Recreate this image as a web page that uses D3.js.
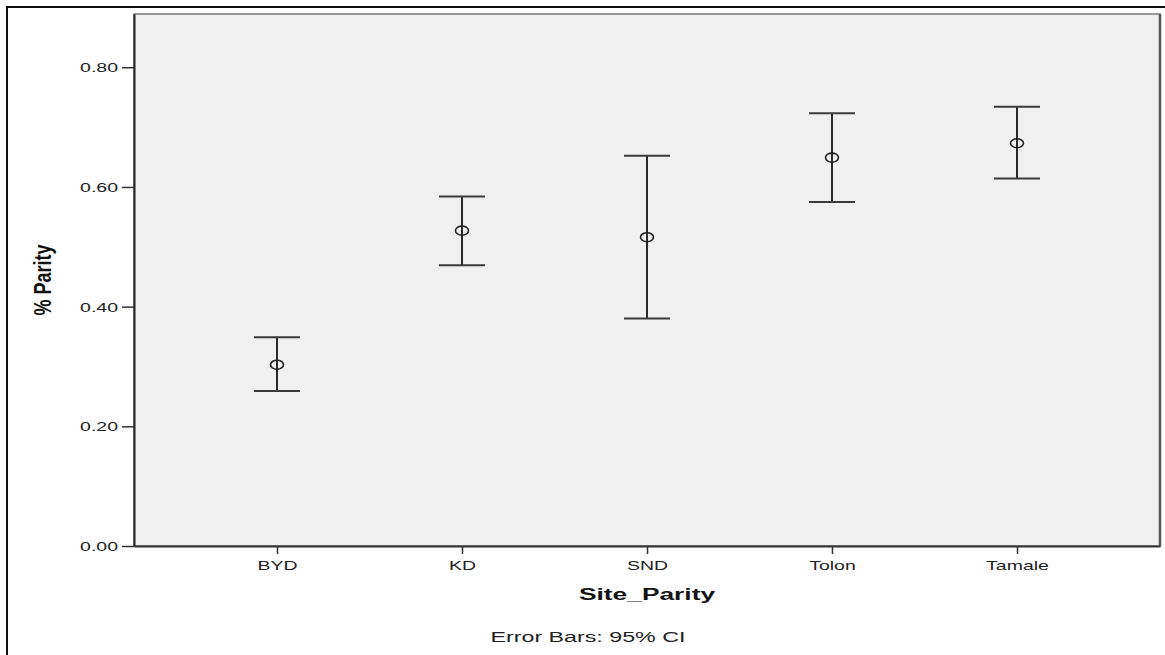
<!doctype html>
<html lang="en">
<head>
    <meta charset="utf-8">
    <title>Site_Parity error bars</title>
    <script src="https://d3js.org/d3.v7.min.js"></script>
    <style>
        body { margin: 0; background: #fff; }
        svg { display: block; }
    </style>
</head>
<body>
<script>
    // data
    const sites = ["BYD", "KD", "SND", "Tolon", "Tamale"]
    const means = [0.303, 0.527, 0.516, 0.649, 0.673]
    const lower = [0.259, 0.469, 0.380, 0.575, 0.614]
    const upper = [0.349, 0.584, 0.652, 0.723, 0.734]
    const yTicks = [0.00, 0.20, 0.40, 0.60, 0.80]

    const width = 1165, height = 655
    const plot = { left: 134, top: 14, right: 1160, bottom: 546 }
    const stretch = 1.5   // text in the source is horizontally stretched

    const svg = d3.select("body").append("svg")
        .attr("width", width)
        .attr("height", height)
        .attr("font-family", "'Liberation Sans', Arial, sans-serif")

    // outer frame (left + top only visible)
    svg.append("path")
        .attr("d", `M7,${height} V7 H${width}`)
        .attr("fill", "none")
        .attr("stroke", "#111")
        .attr("stroke-width", 2)

    let x = d3.scalePoint()
        .domain(sites)
        .range([plot.left, plot.right])
        .padding(0.773)

    let y = d3.scaleLinear()
        .domain([0, 0.889])
        .range([plot.bottom, plot.top])

    // plot background
    svg.append("rect")
        .attr("x", plot.left)
        .attr("y", plot.top)
        .attr("width", plot.right - plot.left)
        .attr("height", plot.bottom - plot.top)
        .attr("fill", "#f0f0f0")
        .attr("stroke", "#777")
        .attr("stroke-width", 1.5)

    svg.append("path")
        .attr("d", `M${plot.right},${plot.top} V${plot.bottom}`)
        .attr("stroke", "#555")
        .attr("stroke-width", 2.5)

    // y axis
    const yAxis = svg.append("g")
        .attr("transform", `translate(${plot.left},0)`)
        .call(d3.axisLeft(y).tickValues(yTicks).tickFormat(d3.format(".2f")).tickSize(12).tickSizeOuter(0))
    yAxis.select(".domain").attr("stroke", "#222").attr("stroke-width", 2)
    yAxis.selectAll(".tick line").attr("stroke", "#333").attr("stroke-width", 1.5)
    yAxis.selectAll("text")
        .attr("x", 0)
        .attr("dy", "0.36em")
        .attr("transform", `translate(-16,0) scale(${stretch},1)`)
        .attr("font-size", 13)
        .attr("font-family", "'Liberation Sans', Arial, sans-serif")
        .attr("fill", "#222")

    // x axis
    const xAxis = svg.append("g")
        .attr("transform", `translate(0,${plot.bottom})`)
        .call(d3.axisBottom(x).tickSize(8).tickSizeOuter(0))
    xAxis.select(".domain").attr("stroke", "#333").attr("stroke-width", 2)
    xAxis.selectAll(".tick line").attr("stroke", "#333").attr("stroke-width", 1.5)
    xAxis.selectAll("text")
        .attr("y", 0)
        .attr("dy", 0)
        .attr("transform", `translate(0,24) scale(${stretch},1)`)
        .attr("font-size", 13)
        .attr("font-family", "'Liberation Sans', Arial, sans-serif")
        .attr("fill", "#222")

    // error bars
    const capHalf = 23
    const bars = svg.append("g")
        .selectAll("g")
        .data(sites)
        .join("g")

    bars.append("line")
        .attr("x1", d => x(d))
        .attr("x2", d => x(d))
        .attr("y1", (d, i) => y(upper[i]))
        .attr("y2", (d, i) => y(lower[i]))
        .attr("stroke", "#2a2a2a")
        .attr("stroke-width", 2)

    bars.append("line")
        .attr("x1", d => x(d) - capHalf)
        .attr("x2", d => x(d) + capHalf)
        .attr("y1", (d, i) => y(upper[i]))
        .attr("y2", (d, i) => y(upper[i]))
        .attr("stroke", "#3a3a3a")
        .attr("stroke-width", 2)

    bars.append("line")
        .attr("x1", d => x(d) - capHalf)
        .attr("x2", d => x(d) + capHalf)
        .attr("y1", (d, i) => y(lower[i]))
        .attr("y2", (d, i) => y(lower[i]))
        .attr("stroke", "#3a3a3a")
        .attr("stroke-width", 2)

    bars.append("ellipse")
        .attr("cx", d => x(d))
        .attr("cy", (d, i) => y(means[i]))
        .attr("rx", 6.5)
        .attr("ry", 4.5)
        .attr("fill", "none")
        .attr("stroke", "#222")
        .attr("stroke-width", 1.6)

    // titles
    svg.append("text")
        .attr("transform", `translate(${(plot.left + plot.right) / 2},600) scale(1.55,1)`)
        .attr("text-anchor", "middle")
        .attr("font-size", 17)
        .attr("font-weight", "bold")
        .attr("fill", "#111")
        .text("Site_Parity")

    svg.append("text")
        .attr("transform", `translate(51,${(plot.top + plot.bottom) / 2}) scale(1.35,1) rotate(-90)`)
        .attr("text-anchor", "middle")
        .attr("font-size", 18)
        .attr("font-weight", "bold")
        .attr("fill", "#111")
        .text("% Parity")

    svg.append("text")
        .attr("transform", `translate(588,642) scale(1.55,1)`)
        .attr("text-anchor", "middle")
        .attr("font-size", 15)
        .attr("fill", "#222")
        .text("Error Bars: 95% CI")
</script>
</body>
</html>
